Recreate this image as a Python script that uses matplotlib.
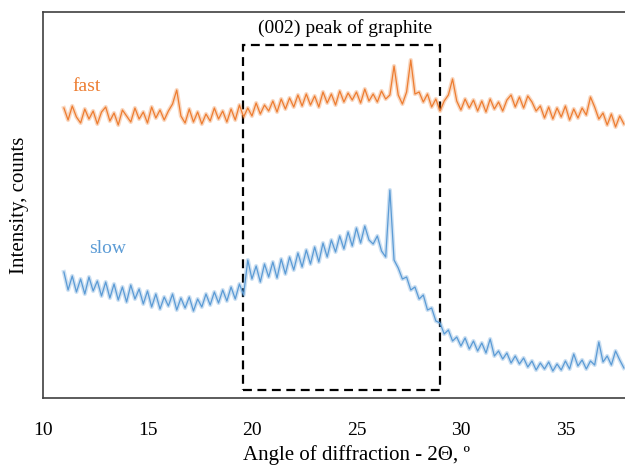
import numpy as np
import matplotlib.pyplot as plt
from matplotlib.patches import Rectangle

# --- Data (0.2 deg steps) ---
two_theta = np.round(np.arange(11.0, 37.81, 0.2), 1)

fast = [
    290, 278, 292, 281, 275,
    289, 279, 287, 274, 286,
    291, 277, 285, 273, 288,
    282, 276, 290, 279, 286,
    275, 291, 280, 288, 278,
    287, 294, 308, 282, 275,
    289, 276, 286, 274, 284,
    277, 290, 279, 287, 276,
    289, 278, 293, 281, 290,
    282, 295, 284, 293, 287,
    297, 286, 299, 289, 300,
    291, 303, 292, 304, 293,
    302, 291, 306, 295, 304,
    293, 307, 296, 305, 298,
    306, 295, 309, 297, 304,
    296, 307, 299, 303, 332,
    303, 294, 306, 338, 304,
    306, 296, 304, 291, 299,
    287, 297, 303, 319, 297,
    288, 299, 290, 298, 287,
    297, 286, 299, 289, 296,
    287, 298, 303, 291, 301,
    290, 302, 296, 287, 292,
    280, 291, 279, 290, 281,
    292, 278, 289, 280, 290,
    283, 301, 291, 279, 285,
    273, 284, 271, 282, 274,
]

slow = [
    126, 108, 122, 106, 119,
    104, 121, 107, 117, 102,
    116, 100, 114, 98, 111,
    96, 113, 99, 109, 94,
    107, 91, 104, 89, 101,
    92, 104, 88, 100, 90,
    101, 87, 99, 91, 104,
    93, 106, 95, 108, 97,
    111, 99, 114, 103, 138,
    119, 132, 116, 134, 121,
    136, 120, 139, 124, 141,
    128, 145, 131, 148, 134,
    151, 136, 155, 141, 158,
    146, 162, 149, 166, 152,
    170, 155, 172, 158, 154,
    162, 147, 141, 208, 138,
    130, 119, 121, 108, 111,
    99, 103, 88, 90, 77,
    75, 64, 68, 57, 61,
    52, 60, 49, 57, 47,
    55, 45, 59, 42, 47,
    39, 45, 35, 42, 34,
    40, 31, 37, 28, 35,
    29, 36, 27, 34, 28,
    37, 29, 44, 32, 38,
    29, 37, 33, 56, 36,
    42, 33, 47, 38, 30,
]

box_x = [19.55, 29.0]
box_y = [8, 353]

plt.rcParams['font.family'] = ['Liberation Serif', 'DejaVu Serif']

fig = plt.figure(figsize=(6.25, 4.69), dpi=100)
ax = fig.add_axes([0.0688, 0.1514, 1.003, 0.823])

# wide pale underlay + thin line to mimic the noisy band
ax.plot(two_theta, fast, color='#ED7D31', lw=3, alpha=0.3)
ax.plot(two_theta, fast, color='#ED7D31', lw=0.9)
ax.plot(two_theta, slow, color='#5B9BD5', lw=3, alpha=0.3)
ax.plot(two_theta, slow, color='#5B9BD5', lw=0.9)

ax.add_patch(Rectangle((box_x[0], box_y[0]), box_x[1] - box_x[0], box_y[1] - box_y[0],
                       fill=False, ls=(0, (4, 2.5)), lw=1.6, color='black'))
ax.text(24.45, 370, "(002) peak of graphite", ha='center', va='center', fontsize=14)
ax.text(12.1, 312, "fast", color='#ED7D31', ha='center', va='center', fontsize=14)
ax.text(13.1, 149, "slow", color='#5B9BD5', ha='center', va='center', fontsize=14)

ax.set_xlim(10, 40)
ax.set_ylim(0, 386)
ax.set_xticks([10, 15, 20, 25, 30, 35])
ax.set_yticks([])
ax.tick_params(axis='x', length=0, pad=17, labelsize=14)
for s in ax.spines.values():
    s.set_color('#404040')
    s.set_linewidth(1.2)

ax.set_xlabel("Angle of diffraction - 2Θ, º", fontsize=15, labelpad=5)
ax.set_ylabel("Intensity, counts", fontsize=15, labelpad=10)

fig.savefig("out.png", dpi=100)
